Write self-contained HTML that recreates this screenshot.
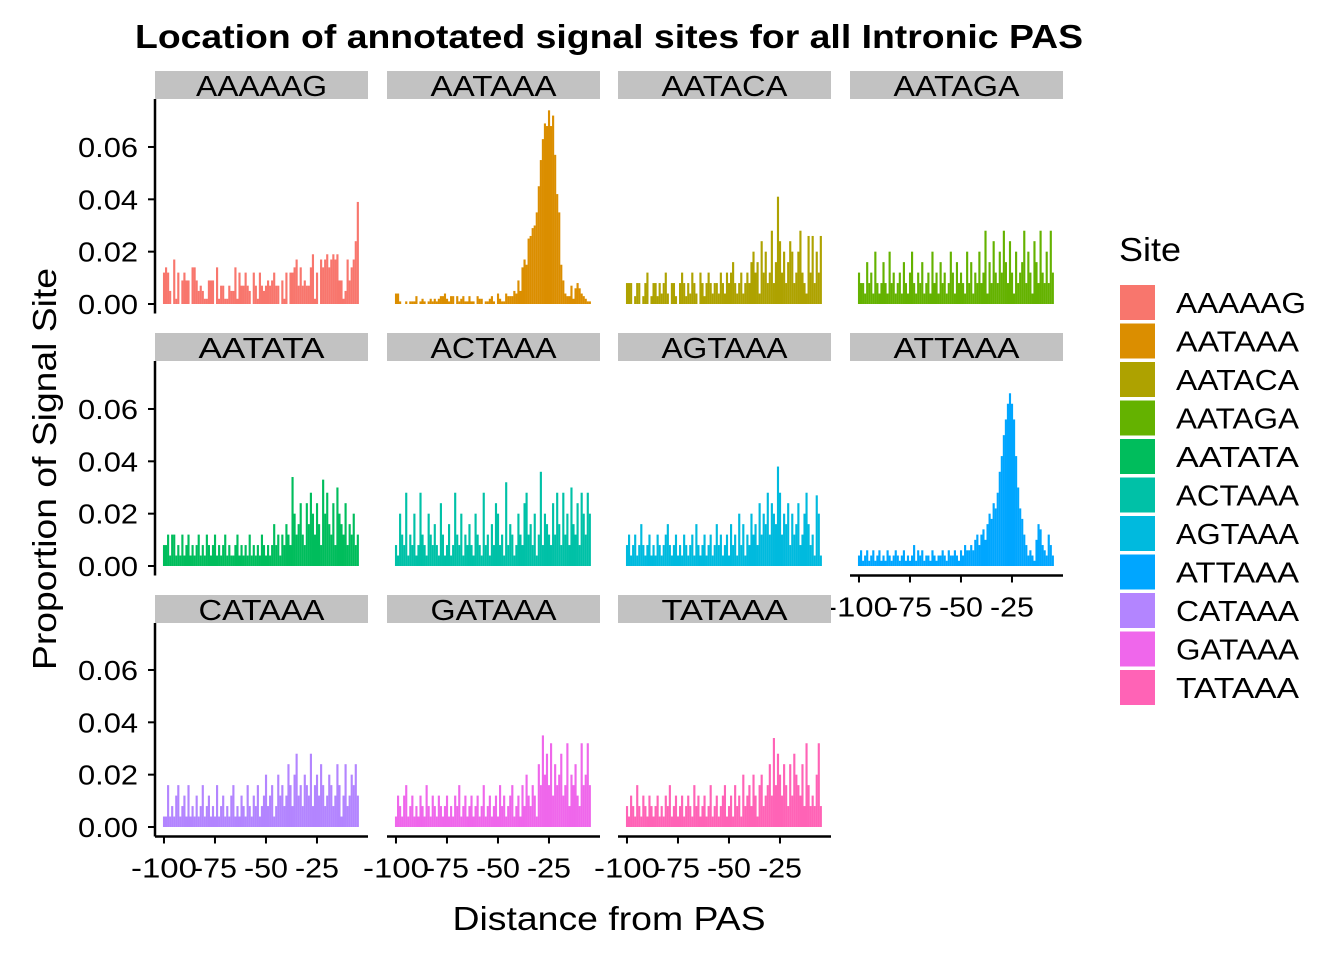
<!DOCTYPE html>
<html><head><meta charset="utf-8"><style>
body{margin:0;background:#fff;}
svg{display:block;font-family:"Liberation Sans",Arial,sans-serif;}
</style></head><body>
<svg id="chart" width="1344" height="960" viewBox="0 0 1344 960">
<text x="609" y="48" text-anchor="middle" font-size="33" font-weight="bold" textLength="948" lengthAdjust="spacingAndGlyphs">Location of annotated signal sites for all Intronic PAS</text>
<text x="609" y="930" text-anchor="middle" font-size="33" textLength="313" lengthAdjust="spacingAndGlyphs">Distance from PAS</text>
<text transform="translate(56,469) rotate(-90)" text-anchor="middle" font-size="33" textLength="402" lengthAdjust="spacingAndGlyphs">Proportion of Signal Site</text>
<g id="panels"></g>
<g id="legend"><text x="1119" y="261" font-size="33" textLength="62" lengthAdjust="spacingAndGlyphs">Site</text></g>
</svg>
<script>
const sites = ["AAAAAG","AATAAA","AATACA","AATAGA","AATATA","ACTAAA","AGTAAA","ATTAAA","CATAAA","GATAAA","TATAAA"];
const colors = ["#F8766D","#DB8E00","#AEA200","#64B200","#00BD5C","#00C1A7","#00BADE","#00A6FF","#B385FF","#EF67EB","#FF63B6"];
const yTicks = [0,0.02,0.04,0.06];
const yTickLabels = ["0.00","0.02","0.04","0.06"];
const xTicks = [-100,-75,-50,-25];
const xTickLabels = ["-100","-75","-50","-25"];
const startPos = -100;
// values in thousandths (proportion * 1000), positions -100, -99, ...
const aaaaagPermille = [12,14,12,5,0,17,2,12,0,9,12,9,9,0,14,14,9,5,7,5,2,2,9,9,9,0,14,2,7,7,2,2,7,5,5,14,2,12,7,7,12,7,5,0,12,7,2,12,7,5,7,9,7,9,12,7,7,0,9,2,12,0,12,12,14,17,7,14,7,9,7,7,14,19,2,12,0,17,14,17,19,14,17,19,17,19,9,9,2,5,17,9,14,17,24,39];
const aataaaPermille = [4,4,1,0,0,1,0,1,1,1,3,0,1,2,1,0,1,2,1,2,1,2,3,3,4,2,1,3,3,0,3,1,2,3,1,1,3,1,1,0,3,2,2,0,1,1,2,3,1,0,4,2,1,1,4,3,3,3,5,4,9,5,14,17,15,25,26,29,30,35,45,55,63,69,68,74,68,72,57,42,35,15,9,4,3,3,7,2,6,8,6,4,3,2,1,1];
const aatacaPermille = [8,8,8,0,3,8,8,0,3,8,12,0,3,8,8,3,8,4,8,12,4,0,8,8,3,0,8,12,8,3,8,4,12,8,4,0,12,8,3,8,12,8,4,8,8,4,12,8,4,12,8,12,16,8,4,8,12,4,8,12,8,16,20,12,16,4,24,12,20,8,12,28,8,16,41,24,12,20,8,16,24,20,8,12,20,28,12,8,4,26,12,26,8,20,12,26];
const aatagaPermille = [12,8,8,4,16,8,12,4,20,8,4,8,16,8,4,20,8,12,4,8,12,4,16,8,4,12,20,8,4,12,8,16,4,8,12,4,20,8,12,4,16,8,12,4,8,20,12,4,16,8,12,8,4,20,8,16,4,12,8,20,8,12,28,4,16,8,24,12,8,20,12,28,16,8,24,12,4,20,8,12,16,28,8,20,12,4,24,16,8,28,12,8,20,8,28,12];
const aatataPermille = [8,8,12,4,12,12,4,8,4,12,4,8,12,4,8,4,8,12,4,8,4,12,8,4,8,12,4,8,4,8,12,4,8,4,4,8,12,4,8,4,8,4,12,4,8,4,8,4,12,8,4,8,4,8,16,8,12,4,12,8,16,12,8,34,20,12,16,24,12,8,24,16,28,20,12,24,16,8,33,20,28,16,12,24,8,30,20,16,12,24,8,16,12,20,8,12];
const actaaaPermille = [8,4,20,12,8,28,4,12,8,20,4,8,28,12,8,4,20,12,8,16,8,4,24,12,4,8,16,4,8,28,12,8,20,4,12,8,16,8,4,20,12,8,4,28,8,12,4,16,8,24,20,8,12,4,32,8,16,12,4,8,20,12,8,24,28,12,16,8,20,4,12,36,8,20,16,12,8,24,12,28,16,8,28,12,20,8,30,16,12,24,8,28,20,12,28,20];
const agtaaaPermille = [8,12,4,8,12,4,8,16,8,4,8,12,4,8,4,12,8,4,8,12,16,8,4,8,12,4,8,4,12,8,4,8,12,4,16,8,4,8,12,4,8,12,4,8,16,8,12,4,8,12,4,16,8,12,4,20,8,16,4,12,8,20,12,16,8,24,12,20,16,28,12,24,20,16,38,28,12,20,16,24,8,20,12,16,24,8,12,20,28,16,8,12,4,27,20,4];
const attaaaPermille = [4,6,2,4,6,2,4,6,2,4,6,2,4,2,6,4,2,4,6,4,2,4,6,2,4,2,4,8,2,6,4,6,2,4,4,2,6,4,2,4,4,6,4,2,6,4,4,6,4,2,6,4,8,6,6,8,6,10,12,8,12,14,10,16,20,18,24,22,28,36,42,50,56,62,66,62,56,42,30,22,18,12,8,4,6,4,2,10,16,14,8,6,4,12,8,4];
const catanaPermille = [4,4,16,4,8,4,12,16,4,8,12,4,16,4,8,4,12,4,8,16,4,8,12,4,8,4,16,4,8,12,4,8,4,12,16,4,8,4,12,8,4,16,8,4,12,8,16,4,8,12,20,8,12,16,4,8,20,12,16,8,12,24,16,8,20,28,12,16,8,20,16,12,28,8,16,20,12,24,16,8,12,20,16,8,12,24,16,4,12,24,8,12,20,16,24,12];
const gataaaPermille = [4,12,8,4,12,16,4,8,12,4,8,4,12,8,4,16,8,4,12,8,4,12,8,4,8,12,4,8,4,12,8,16,4,8,12,4,8,12,4,8,12,4,8,16,4,8,12,4,8,12,4,16,8,12,4,8,12,16,4,8,12,4,16,8,20,12,8,16,12,4,24,16,35,20,28,16,32,12,24,16,20,28,12,16,32,8,20,16,24,12,8,32,16,20,32,16];
const tataaaPermille = [8,4,12,8,4,16,8,4,12,8,4,12,8,4,8,12,4,8,4,12,8,16,4,8,12,4,8,12,4,8,12,8,4,16,8,12,4,8,12,4,8,16,4,8,12,4,8,12,16,4,8,12,4,16,8,12,4,20,8,12,16,8,20,12,4,16,20,8,12,16,24,12,34,16,28,20,12,24,16,8,24,12,28,20,16,12,24,8,32,16,8,12,8,20,32,8];
const seriesValues = [aaaaagPermille,aataaaPermille,aatacaPermille,aatagaPermille,aatataPermille,actaaaPermille,agtaaaPermille,attaaaPermille,catanaPermille,gataaaPermille,tataaaPermille];

const NS = "http://www.w3.org/2000/svg";
const colX = [155,387,618,850], zeroY = [304,566,827], stripTop = [71,333,595];
const PW = 213, PXU = 2.04, XMIN = -104.4, PYU = 2617;
function xScale(col, v){ return colX[col] + (v - XMIN) * PXU; }
function yScale(row, v){ return zeroY[row] - v * PYU; }
function mk(tag, attrs, parent){ const e = document.createElementNS(NS, tag); for (const k in attrs) e.setAttribute(k, attrs[k]); parent.appendChild(e); return e; }
const root = document.getElementById("panels");
sites.forEach((s, i) => {
  const row = Math.floor(i / 4), col = i % 4;
  const g = mk("g", {}, root);
  
  
  const strip = mk("rect", {x: colX[col], y: stripTop[row], width: PW, height: 28, fill: "#C2C2C2"}, g);
  
  
  const st = mk("text", {x: colX[col] + PW/2, y: stripTop[row] + 25, "text-anchor": "middle", "font-size": 29, textLength: s === "AAAAAG" ? 131 : 126, lengthAdjust: "spacingAndGlyphs"}, g);
  st.textContent = s;
  
  
  seriesValues[i].forEach((pm, j) => {
    if (pm <= 0) return;
    const v = pm / 1000, pos = startPos + j;
    const x0 = xScale(col, pos - 0.5), y0 = yScale(row, v);
    const b = mk("rect", {x: x0.toFixed(2), y: y0.toFixed(2), width: (PXU + 0.1).toFixed(2), height: (zeroY[row] - y0).toFixed(2), fill: colors[i]}, g);
    
    
  });
  const bottom = zeroY[row] + 9.5;
  if (col === 0) {
    const ax = mk("line", {x1: colX[0], x2: colX[0], y1: stripTop[row] + 28, y2: bottom, stroke: "#000", "stroke-width": 2.5}, g);
    
    
    yTicks.forEach((t, k) => {
      const yy = yScale(row, t);
      mk("line", {x1: colX[0] - 7, x2: colX[0], y1: yy, y2: yy, stroke: "#000", "stroke-width": 2}, g);
      const tl = mk("text", {x: 138, y: yy + 10, "text-anchor": "end", "font-size": 28, textLength: 60, lengthAdjust: "spacingAndGlyphs"}, g);
      tl.textContent = yTickLabels[k];
      
      
    });
  }
  if (row === 2 || i === 7) {
    const xa = mk("line", {x1: colX[col], x2: colX[col] + PW, y1: bottom, y2: bottom, stroke: "#000", "stroke-width": 2.5}, g);
    
    
    xTicks.forEach((t, k) => {
      const xx = xScale(col, t);
      mk("line", {x1: xx, x2: xx, y1: bottom, y2: bottom + 7, stroke: "#000", "stroke-width": 2}, g);
      const tl = mk("text", {x: xx, y: bottom + 41, "text-anchor": "middle", "font-size": 28, textLength: k === 0 ? 66 : 44, lengthAdjust: "spacingAndGlyphs"}, g);
      tl.textContent = xTickLabels[k];
      
      
    });
  }
});
const lg = document.getElementById("legend");
sites.forEach((s, i) => {
  const y = 285 + i * 38.5;
  const g = mk("g", {}, lg);
  
  
  mk("rect", {x: 1120, y: y, width: 35, height: 35, fill: colors[i]}, g);
  const t = mk("text", {x: 1176, y: y + 28, "font-size": 29, textLength: s === "AAAAAG" ? 130 : 123, lengthAdjust: "spacingAndGlyphs"}, g);
  t.textContent = s;
});
</script>
</body></html>
